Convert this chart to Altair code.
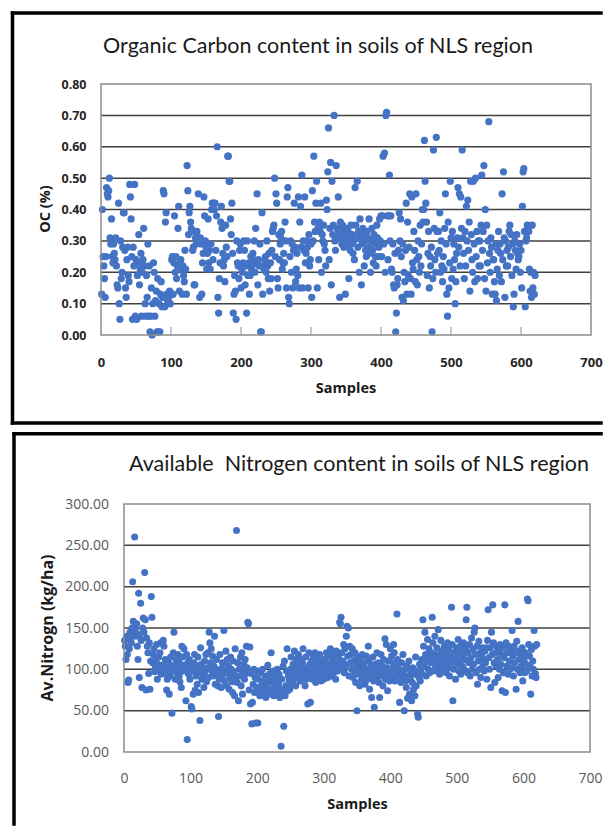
import altair as alt
import pandas as pd

# ---------------- data ----------------
oc_title = "Organic Carbon content in soils of NLS region"
n_title = "Available\u00a0 Nitrogen content in soils of NLS region"
oc_ytitle = "OC (%)"
n_ytitle = "Av.Nitrogn (kg/ha)"
x_title = "Samples"

oc_ticks = [0.0, 0.1, 0.2, 0.3, 0.4, 0.5, 0.6, 0.7, 0.8]
n_ticks = [0, 50, 100, 150, 200, 250, 300]
x_ticks = [0, 100, 200, 300, 400, 500, 600, 700]

oc = [
    0.13,0.40,0.25,0.22,0.18,0.12,0.25,0.47,0.45,0.44,0.46,0.50,0.31,0.29,0.37,0.25,0.23,0.29,0.26,0.24,
    0.31,0.22,0.16,0.15,0.42,0.10,0.05,0.30,0.18,0.20,0.28,0.39,0.39,0.27,0.15,0.12,0.24,0.28,0.19,0.17,
    0.48,0.44,0.37,0.25,0.05,0.28,0.22,0.48,0.06,0.24,0.05,0.19,0.23,0.32,0.16,0.21,0.26,0.06,0.20,0.24,
    0.34,0.22,0.10,0.06,0.19,0.12,0.29,0.06,0.22,0.01,0.06,0.15,0.00,0.10,0.23,0.20,0.06,0.11,0.14,0.01,
    0.18,0.01,0.10,0.01,0.13,0.17,0.09,0.12,0.46,0.45,0.09,0.36,0.39,0.13,0.11,0.10,0.12,0.14,0.10,0.13,
    0.24,0.25,0.13,0.23,0.38,0.20,0.25,0.18,0.22,0.34,0.41,0.14,0.23,0.24,0.21,0.13,0.22,0.19,0.17,0.27,
    0.21,0.13,0.54,0.46,0.32,0.39,0.41,0.36,0.34,0.33,0.27,0.28,0.16,0.16,0.31,0.29,0.33,0.30,0.45,0.31,
    0.12,0.31,0.29,0.13,0.23,0.26,0.44,0.38,0.30,0.28,0.21,0.26,0.37,0.23,0.27,0.21,0.29,0.40,0.42,0.24,
    0.42,0.40,0.42,0.27,0.38,0.60,0.12,0.07,0.18,0.23,0.36,0.41,0.34,0.26,0.22,0.24,0.17,0.35,0.28,0.25,
    0.57,0.57,0.49,0.49,0.37,0.32,0.42,0.26,0.07,0.13,0.19,0.14,0.05,0.30,0.23,0.22,0.18,0.27,0.29,0.15,
    0.21,0.20,0.23,0.30,0.27,0.16,0.22,0.07,0.30,0.19,0.23,0.13,0.19,0.25,0.21,0.22,0.26,0.24,0.30,0.20,
    0.34,0.23,0.45,0.16,0.24,0.22,0.29,0.01,0.01,0.39,0.13,0.22,0.21,0.24,0.25,0.20,0.30,0.22,0.18,0.26,
    0.14,0.23,0.18,0.27,0.33,0.34,0.35,0.50,0.25,0.45,0.42,0.18,0.15,0.32,0.24,0.29,0.31,0.33,0.21,0.23,
    0.26,0.23,0.36,0.30,0.15,0.44,0.47,0.12,0.10,0.25,0.30,0.20,0.29,0.15,0.27,0.42,0.28,0.17,0.21,0.26,
    0.19,0.44,0.15,0.36,0.41,0.28,0.51,0.15,0.30,0.27,0.44,0.23,0.26,0.30,0.28,0.15,0.32,0.22,0.24,0.29,
    0.12,0.46,0.30,0.57,0.36,0.33,0.42,0.49,0.15,0.34,0.24,0.36,0.33,0.42,0.20,0.32,0.30,0.35,0.29,0.27,
    0.22,0.43,0.40,0.52,0.66,0.24,0.34,0.55,0.16,0.49,0.32,0.35,0.70,0.30,0.27,0.54,0.34,0.31,0.44,0.33,
    0.12,0.36,0.33,0.29,0.35,0.31,0.28,0.32,0.13,0.34,0.30,0.29,0.33,0.18,0.31,0.27,0.35,0.29,0.32,0.26,
    0.30,0.24,0.47,0.35,0.31,0.49,0.28,0.33,0.20,0.37,0.31,0.16,0.29,0.34,0.32,0.22,0.30,0.27,0.25,0.33,
    0.31,0.28,0.37,0.26,0.20,0.30,0.34,0.27,0.23,0.32,0.29,0.25,0.22,0.35,0.31,0.25,0.28,0.37,0.30,0.38,
    0.25,0.38,0.57,0.29,0.58,0.20,0.70,0.71,0.38,0.24,0.38,0.51,0.30,0.38,0.21,0.20,0.29,0.16,0.15,0.26,
    0.01,0.07,0.16,0.18,0.27,0.39,0.30,0.37,0.25,0.12,0.29,0.11,0.20,0.17,0.27,0.42,0.13,0.36,0.19,0.28,
    0.45,0.18,0.13,0.44,0.23,0.21,0.33,0.27,0.17,0.45,0.24,0.16,0.30,0.25,0.20,0.35,0.22,0.29,0.40,0.36,
    0.40,0.62,0.49,0.42,0.36,0.19,0.26,0.33,0.15,0.25,0.22,0.28,0.01,0.18,0.59,0.34,0.24,0.20,0.63,0.33,
    0.26,0.33,0.27,0.39,0.20,0.30,0.22,0.17,0.25,0.21,0.34,0.45,0.29,0.13,0.06,0.36,0.15,0.23,0.49,0.31,
    0.18,0.33,0.21,0.29,0.24,0.10,0.17,0.26,0.31,0.47,0.28,0.45,0.22,0.44,0.34,0.59,0.31,0.26,0.18,0.33,
    0.22,0.41,0.30,0.43,0.27,0.36,0.14,0.49,0.32,0.24,0.20,0.49,0.29,0.17,0.50,0.25,0.33,0.18,0.30,0.22,
    0.30,0.22,0.35,0.51,0.27,0.33,0.54,0.18,0.40,0.14,0.35,0.23,0.30,0.68,0.26,0.20,0.31,0.28,0.13,0.24,
    0.24,0.17,0.13,0.29,0.11,0.21,0.27,0.33,0.19,0.29,0.26,0.17,0.45,0.24,0.52,0.31,0.12,0.30,0.22,0.27,
    0.22,0.28,0.33,0.35,0.25,0.32,0.19,0.29,0.09,0.13,0.30,0.27,0.21,0.32,0.26,0.24,0.25,0.29,0.20,0.27,
    0.15,0.41,0.52,0.53,0.33,0.09,0.30,0.31,0.35,0.34,0.33,0.21,0.14,0.20,0.12,0.35,0.15,0.20,0.13,0.19,
]

nitrogen = [
    135,128,112,140,118,84,87,125,145,138,132,150,206,158,145,260,148,140,155,128,
    112,192,90,142,180,135,78,150,162,145,217,160,75,138,128,120,95,132,76,110,
    188,163,108,118,125,97,102,112,130,88,106,115,98,120,132,94,105,100,135,128,
    95,112,98,75,88,104,108,70,92,115,100,47,98,120,145,105,88,112,96,102,
    118,110,92,85,106,78,128,115,98,125,105,100,62,118,15,108,94,112,88,102,
    55,52,98,70,108,118,75,92,104,82,115,72,96,38,126,106,88,100,94,78,
    110,98,118,85,102,120,90,145,132,108,125,98,116,92,104,140,82,100,112,95,
    80,43,88,118,100,78,92,108,106,147,86,98,122,80,112,95,104,76,90,115,
    100,85,72,110,96,68,125,90,268,84,108,62,100,92,115,80,120,70,98,106,
    88,112,95,128,102,157,155,75,127,58,95,34,60,82,100,72,90,35,78,98,
    35,88,75,68,96,80,72,100,85,70,78,92,66,82,74,105,70,88,95,76,
    120,72,84,98,68,78,90,74,86,100,70,82,94,66,76,7,88,72,104,31,
    110,68,80,98,125,74,92,86,76,100,115,82,95,106,88,122,98,80,112,92,
    104,118,90,100,86,112,96,108,125,92,100,80,115,88,102,58,94,120,106,60,
    98,110,88,116,100,92,120,84,104,112,96,108,90,118,100,86,110,95,104,88,
    112,100,94,120,106,90,115,102,98,125,92,108,118,100,96,112,104,88,122,110,
    98,115,106,157,155,163,120,100,110,130,96,125,105,140,152,116,150,92,128,108,
    118,100,125,90,110,98,120,84,106,50,115,94,104,80,112,98,88,118,102,92,
    108,82,96,116,100,88,128,110,76,92,104,66,98,115,86,54,106,90,100,120,
    94,108,84,66,100,118,92,104,80,112,96,137,88,130,102,74,110,94,86,125,
    100,116,92,108,130,120,86,98,104,167,112,92,100,60,96,84,108,88,118,94,
    50,100,86,78,104,65,92,110,70,88,98,62,84,102,76,94,68,115,80,98,
    46,42,90,106,86,100,112,94,160,128,104,145,118,92,110,136,100,125,96,115,
    108,120,163,132,98,112,140,104,118,126,100,148,110,94,116,135,106,122,98,114,
    128,104,118,96,110,132,102,124,92,116,108,175,130,62,100,120,112,88,126,106,
    118,136,98,110,128,94,122,104,116,132,100,112,126,160,175,96,120,108,130,92,
    114,138,100,124,106,145,150,118,96,128,82,110,134,100,120,90,116,126,104,112,
    98,122,108,126,88,135,172,114,100,126,78,145,118,178,132,108,84,120,104,128,
    112,90,124,100,130,106,118,74,126,96,114,178,72,132,104,120,94,128,110,100,
    124,102,147,116,92,128,108,120,76,134,100,158,112,122,96,118,104,126,86,114,
    110,96,120,106,98,185,183,130,116,104,70,124,92,110,100,147,128,95,90,130,
]

# ---------------- styling ----------------
BLUE = "#4472C4"
GRID = "#404040"
FRAME = "#8c8c8c"
BORDER = "#000000"
TITLE_FONT = "Lato"
AX_FONT = "Open Sans"

TOP_W, TOP_H = 490, 251
BOT_W, BOT_H = 489, 248
BOT_X0 = 23  # bottom plot starts further right

one = pd.DataFrame({"k": [0]})


def text(label, x, y, size, font, weight="normal", angle=0, color="#1a1a1a"):
    return alt.Chart(pd.DataFrame({"t": [label]})).mark_text(
        font=font, fontSize=size, fontWeight=weight, angle=angle,
        align="center", baseline="middle", color=color,
    ).encode(x=alt.value(x), y=alt.value(y), text="t:N")


def hrule(x, x2, y, color, width):
    return alt.Chart(one).mark_rule(color=color, strokeWidth=width, strokeCap="square").encode(
        x=alt.value(x), x2=alt.value(x2), y=alt.value(y))


def vrule(x, y, y2, color, width):
    return alt.Chart(one).mark_rule(color=color, strokeWidth=width, strokeCap="square").encode(
        x=alt.value(x), y=alt.value(y), y2=alt.value(y2))


# ---------------- top panel ----------------
oc_df = pd.DataFrame({"sample": list(range(1, len(oc) + 1)), "oc": oc})
x_top = alt.Scale(domain=[0, 700], nice=False)
y_top = alt.Scale(domain=[0, 0.8], nice=False)

ax_top_x = alt.Axis(values=x_ticks, format="d", title=None, domain=False, ticks=False,
                    tickSize=0, grid=False, labelPadding=21, labelFont=AX_FONT,
                    labelFontSize=13, labelFontWeight="bold", labelColor="#262626",
                    labelFlush=False, labelOverlap=False)
ax_top_y = alt.Axis(values=oc_ticks, format=".2f", title=None, domain=False, ticks=False,
                    tickSize=0, grid=False, labelPadding=15, labelFont=AX_FONT,
                    labelFontSize=12.5, labelFontWeight="bold", labelColor="#262626",
                    labelFlush=False, labelOverlap=False)

top_grid = alt.Chart(pd.DataFrame({"g": oc_ticks[1:-1]})).mark_rule(
    color=GRID, strokeWidth=1.5).encode(
    y=alt.Y("g:Q", scale=y_top, axis=ax_top_y), x=alt.value(0), x2=alt.value(TOP_W))

top_ticks = alt.Chart(pd.DataFrame({"t": x_ticks[1:-1]})).mark_rule(
    color=FRAME, strokeWidth=1).encode(
    x=alt.X("t:Q", scale=x_top, axis=ax_top_x), y=alt.value(TOP_H), y2=alt.value(TOP_H - 8))

top_frame = alt.Chart(one).mark_rect(filled=False, stroke=FRAME, strokeWidth=1.5).encode(
    x=alt.value(0), x2=alt.value(TOP_W), y=alt.value(0), y2=alt.value(TOP_H))

top_points = alt.Chart(oc_df).mark_circle(size=52, color=BLUE, opacity=1).encode(
    x=alt.X("sample:Q", scale=x_top, axis=ax_top_x),
    y=alt.Y("oc:Q", scale=y_top, axis=ax_top_y),
)

top = alt.layer(
    top_grid, top_ticks, top_points, top_frame,
    text(oc_title, 217, -37, 21.5, TITLE_FONT),
    text(oc_ytitle, -55, 125, 14.5, AX_FONT, "bold", 270),
    text(x_title, 245, 305, 14.5, AX_FONT, "bold"),
    hrule(-88.5, 500, -71, BORDER, 3.5),
    vrule(-88.5, -71, 339, BORDER, 3.5),
    hrule(-88.5, 500, 339, BORDER, 3.5),
).properties(width=TOP_W, height=TOP_H)

# ---------------- bottom panel ----------------
n_df = pd.DataFrame({"sample": list(range(1, len(nitrogen) + 1)), "n": nitrogen})
x_bot = alt.Scale(domain=[0, 700], range=[BOT_X0, BOT_W], nice=False)
y_bot = alt.Scale(domain=[0, 300], nice=False)

ax_bot_x = alt.Axis(values=x_ticks, format="d", title=None, domain=False, ticks=False,
                    tickSize=0, grid=False, labelPadding=19, labelFont=AX_FONT,
                    labelFontSize=14, labelColor="#595959",
                    labelFlush=False, labelOverlap=False)
ax_bot_y = alt.Axis(values=n_ticks, format=".2f", title=None, domain=False, ticks=False,
                    tickSize=0, grid=False, labelPadding=15.5, offset=-BOT_X0,
                    labelFont=AX_FONT, labelFontSize=14, labelColor="#595959",
                    labelFlush=False, labelOverlap=False)

bot_grid = alt.Chart(pd.DataFrame({"g": n_ticks[1:-1]})).mark_rule(
    color=GRID, strokeWidth=1.5).encode(
    y=alt.Y("g:Q", scale=y_bot, axis=ax_bot_y), x=alt.value(BOT_X0), x2=alt.value(BOT_W))

bot_frame = alt.Chart(one).mark_rect(filled=False, stroke=FRAME, strokeWidth=1.5).encode(
    x=alt.value(BOT_X0), x2=alt.value(BOT_W), y=alt.value(0), y2=alt.value(BOT_H))

bot_points = alt.Chart(n_df).mark_circle(size=50, color=BLUE, opacity=1).encode(
    x=alt.X("sample:Q", scale=x_bot, axis=ax_bot_x),
    y=alt.Y("n:Q", scale=y_bot, axis=ax_bot_y),
)

bottom = alt.layer(
    bot_grid, bot_points, bot_frame,
    text(n_title, 258, -39, 21.5, TITLE_FONT),
    text(n_ytitle, -53, 124, 16, AX_FONT, "bold", 270),
    text(x_title, 256.5, 301, 14.5, AX_FONT, "bold"),
    hrule(-87, 500, -70.3, BORDER, 3.5),
    vrule(-87, -70.3, 320, BORDER, 3.5),
).properties(width=BOT_W, height=BOT_H)

chart = alt.vconcat(top, bottom, spacing=4).properties(
    padding={"left": 1, "top": 2, "right": 0, "bottom": 0}
).configure_view(stroke="transparent")

chart.save("out.html", embed_options={"renderer": "svg", "actions": False})
